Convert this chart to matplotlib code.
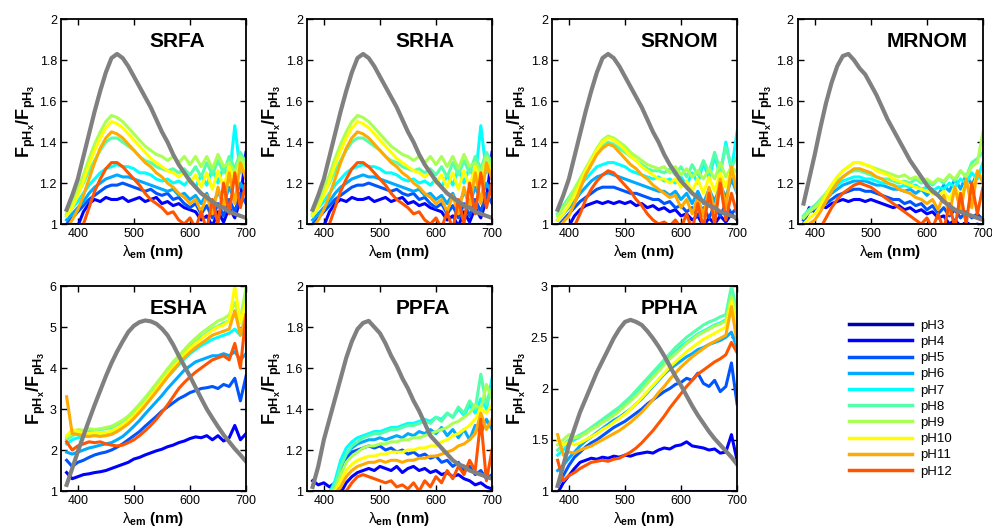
import matplotlib.pyplot as plt
from matplotlib.lines import Line2D
from matplotlib.ticker import FuncFormatter

plt.rcParams['font.family'] = ['Liberation Sans', 'DejaVu Sans']
plt.rcParams['mathtext.fontset'] = 'custom'
plt.rcParams['mathtext.rm'] = 'Liberation Sans'
plt.rcParams['mathtext.it'] = 'Liberation Sans:italic'
plt.rcParams['mathtext.bf'] = 'Liberation Sans:bold'

# emission wavelength grid (nm)
wl = [380, 390, 400, 410, 420, 430, 440, 450, 460, 470, 480, 490, 500, 510, 520, 530, 540,
      550, 560, 570, 580, 590, 600, 610, 620, 630, 640, 650, 660, 670, 680, 690, 700]

ph_labels = ['pH3', 'pH4', 'pH5', 'pH6', 'pH7', 'pH8', 'pH9', 'pH10', 'pH11', 'pH12']
ph_colors = ['#0000aa', '#0000ff', '#0055ff', '#00aaff', '#00ffff',
             '#55ffaa', '#aaff55', '#ffff00', '#ffaa00', '#ff5500']

# pH3 divided by itself
ph3_ratio = [1.0] * 33

# scaled emission spectra (grey curves)
gray_sr = [1.07, 1.14, 1.22, 1.33, 1.44, 1.55, 1.65, 1.74, 1.81, 1.83, 1.81, 1.77, 1.72, 1.67, 1.62, 1.57, 1.51,
           1.45, 1.40, 1.34, 1.29, 1.25, 1.21, 1.18, 1.15, 1.13, 1.11, 1.09, 1.08, 1.06, 1.05, 1.04, 1.03]
gray_mrnom = [1.10, 1.22, 1.34, 1.47, 1.59, 1.69, 1.77, 1.82, 1.83, 1.80, 1.76, 1.73, 1.68, 1.63, 1.57, 1.51, 1.46,
              1.41, 1.36, 1.31, 1.27, 1.23, 1.19, 1.16, 1.14, 1.11, 1.09, 1.07, 1.06, 1.05, 1.04, 1.03, 1.02]
gray_esha = [1.15, 1.55, 1.96, 2.35, 2.73, 3.10, 3.45, 3.80, 4.12, 4.40, 4.65, 4.88, 5.03, 5.12, 5.16, 5.14, 5.08,
             4.96, 4.80, 4.57, 4.30, 4.05, 3.80, 3.53, 3.26, 3.00, 2.78, 2.57, 2.37, 2.20, 2.03, 1.88, 1.72]
gray_ppfa = [1.02, 1.12, 1.25, 1.35, 1.45, 1.55, 1.65, 1.73, 1.79, 1.82, 1.83, 1.80, 1.77, 1.72, 1.66, 1.61, 1.55,
             1.50, 1.44, 1.39, 1.33, 1.27, 1.24, 1.21, 1.18, 1.15, 1.13, 1.12, 1.10, 1.09, 1.08, 1.07, 1.06]
gray_ppha = [1.05, 1.25, 1.45, 1.61, 1.77, 1.90, 2.03, 2.16, 2.27, 2.38, 2.49, 2.58, 2.65, 2.67, 2.65, 2.62, 2.56,
             2.49, 2.41, 2.32, 2.22, 2.12, 2.03, 1.93, 1.83, 1.74, 1.66, 1.58, 1.51, 1.45, 1.39, 1.33, 1.26]

# F(pHx)/F(pH3), rows pH4 ... pH12
srfa = [
    [0.97, 0.98, 0.99, 1.06, 1.10, 1.12, 1.11, 1.13, 1.12, 1.12, 1.13, 1.11, 1.12, 1.13, 1.11, 1.12, 1.13,
     1.10, 1.11, 1.09, 1.10, 1.08, 1.07, 1.06, 1.02, 1.04, 0.99, 1.06, 1.01, 1.08, 1.03, 1.12, 1.35],
    [1.00, 1.03, 1.06, 1.09, 1.12, 1.14, 1.16, 1.18, 1.19, 1.19, 1.20, 1.19, 1.18, 1.17, 1.16, 1.17, 1.15,
     1.14, 1.15, 1.12, 1.13, 1.10, 1.08, 1.10, 1.05, 1.09, 1.03, 1.10, 1.04, 1.12, 1.06, 1.15, 1.10],
    [1.02, 1.05, 1.08, 1.11, 1.15, 1.18, 1.20, 1.22, 1.23, 1.24, 1.23, 1.23, 1.22, 1.21, 1.20, 1.19, 1.18,
     1.17, 1.16, 1.17, 1.14, 1.15, 1.12, 1.14, 1.10, 1.15, 1.08, 1.16, 1.10, 1.18, 1.12, 1.20, 1.15],
    [1.04, 1.08, 1.11, 1.15, 1.19, 1.22, 1.25, 1.27, 1.28, 1.29, 1.28, 1.28, 1.27, 1.25, 1.25, 1.24, 1.22,
     1.21, 1.22, 1.20, 1.21, 1.19, 1.22, 1.18, 1.24, 1.19, 1.27, 1.20, 1.28, 1.22, 1.48, 1.25, 1.30],
    [1.05, 1.10, 1.15, 1.20, 1.26, 1.31, 1.36, 1.40, 1.42, 1.42, 1.40, 1.38, 1.36, 1.33, 1.31, 1.30, 1.28,
     1.27, 1.26, 1.27, 1.25, 1.27, 1.24, 1.28, 1.23, 1.30, 1.24, 1.31, 1.25, 1.33, 1.27, 1.35, 1.30],
    [1.05, 1.10, 1.17, 1.24, 1.32, 1.39, 1.45, 1.50, 1.53, 1.52, 1.50, 1.47, 1.44, 1.41, 1.38, 1.36, 1.34,
     1.33, 1.31, 1.33, 1.30, 1.33, 1.29, 1.33, 1.28, 1.33, 1.27, 1.34, 1.28, 1.30, 1.25, 1.33, 1.28],
    [1.04, 1.08, 1.14, 1.21, 1.29, 1.36, 1.42, 1.47, 1.50, 1.49, 1.47, 1.44, 1.41, 1.38, 1.35, 1.32, 1.30,
     1.28, 1.26, 1.25, 1.23, 1.25, 1.20, 1.24, 1.18, 1.25, 1.17, 1.26, 1.18, 1.28, 1.20, 1.30, 1.25],
    [0.98, 1.02, 1.07, 1.14, 1.22, 1.30, 1.37, 1.42, 1.45, 1.44, 1.42, 1.39, 1.36, 1.33, 1.30, 1.28, 1.25,
     1.23, 1.20, 1.18, 1.15, 1.13, 1.10, 1.12, 1.06, 1.14, 1.05, 1.18, 1.08, 1.25, 1.10, 1.30, 1.22],
    [0.95, 0.96, 0.98, 1.00, 1.08, 1.16, 1.22, 1.27, 1.30, 1.30, 1.28, 1.25, 1.22, 1.19, 1.15, 1.12, 1.10,
     1.08, 1.05, 1.06, 1.02, 1.00, 1.03, 0.98, 1.06, 0.97, 1.12, 1.00, 1.20, 1.05, 1.25, 1.08, 1.20],
]

# SRHA reads the same as SRFA in the figure
srha = srfa

srnom = [
    [0.97, 0.98, 0.99, 1.04, 1.07, 1.09, 1.10, 1.11, 1.10, 1.11, 1.10, 1.11, 1.10, 1.11, 1.09, 1.10, 1.08,
     1.09, 1.07, 1.08, 1.06, 1.07, 1.04, 1.05, 1.02, 1.04, 0.99, 1.03, 1.00, 1.04, 1.01, 1.05, 1.02],
    [0.99, 1.02, 1.05, 1.08, 1.11, 1.13, 1.15, 1.17, 1.18, 1.18, 1.18, 1.17, 1.16, 1.15, 1.15, 1.14, 1.13,
     1.12, 1.12, 1.10, 1.11, 1.08, 1.09, 1.06, 1.08, 1.04, 1.08, 1.03, 1.09, 1.04, 1.10, 1.05, 1.08],
    [1.02, 1.05, 1.08, 1.11, 1.15, 1.18, 1.21, 1.23, 1.24, 1.25, 1.24, 1.23, 1.22, 1.21, 1.20, 1.19, 1.18,
     1.17, 1.16, 1.16, 1.14, 1.16, 1.12, 1.15, 1.10, 1.16, 1.10, 1.17, 1.11, 1.19, 1.13, 1.22, 1.15],
    [1.05, 1.09, 1.12, 1.15, 1.19, 1.22, 1.25, 1.28, 1.29, 1.30, 1.30, 1.29, 1.28, 1.26, 1.25, 1.24, 1.23,
     1.22, 1.23, 1.21, 1.22, 1.20, 1.23, 1.19, 1.25, 1.20, 1.30, 1.22, 1.33, 1.24, 1.40, 1.26, 1.45],
    [1.05, 1.09, 1.13, 1.17, 1.22, 1.27, 1.31, 1.35, 1.38, 1.40, 1.39, 1.37, 1.35, 1.33, 1.31, 1.29, 1.27,
     1.26, 1.26, 1.25, 1.27, 1.24, 1.28, 1.23, 1.29, 1.24, 1.31, 1.25, 1.35, 1.26, 1.38, 1.28, 1.33],
    [1.04, 1.08, 1.12, 1.17, 1.22, 1.27, 1.32, 1.37, 1.41, 1.43, 1.42, 1.40, 1.38, 1.35, 1.33, 1.31, 1.29,
     1.28, 1.27, 1.28, 1.25, 1.28, 1.24, 1.27, 1.23, 1.26, 1.22, 1.27, 1.22, 1.30, 1.23, 1.28, 1.25],
    [1.02, 1.05, 1.09, 1.14, 1.20, 1.26, 1.31, 1.36, 1.40, 1.42, 1.41, 1.39, 1.36, 1.33, 1.31, 1.28, 1.26,
     1.24, 1.22, 1.22, 1.20, 1.22, 1.18, 1.21, 1.16, 1.22, 1.15, 1.23, 1.16, 1.25, 1.18, 1.27, 1.20],
    [0.98, 1.01, 1.04, 1.10, 1.17, 1.24, 1.29, 1.34, 1.37, 1.39, 1.38, 1.35, 1.32, 1.29, 1.27, 1.24, 1.22,
     1.19, 1.17, 1.15, 1.13, 1.14, 1.08, 1.12, 1.05, 1.13, 1.04, 1.18, 1.06, 1.22, 1.08, 1.28, 1.15],
    [0.95, 0.96, 0.97, 0.99, 1.05, 1.12, 1.17, 1.21, 1.24, 1.26, 1.25, 1.22, 1.19, 1.16, 1.12, 1.09, 1.05,
     1.02, 1.00, 1.01, 0.99, 1.02, 0.98, 1.05, 0.97, 1.10, 0.98, 1.15, 1.00, 1.20, 1.02, 1.15, 1.05],
]

mrnom = [
    [1.00, 1.08, 1.06, 1.09, 1.08, 1.10, 1.11, 1.12, 1.11, 1.12, 1.12, 1.11, 1.12, 1.11, 1.10, 1.09, 1.08,
     1.09, 1.07, 1.08, 1.06, 1.07, 1.05, 1.06, 1.03, 1.04, 1.00, 1.02, 0.99, 1.01, 0.99, 1.00, 0.99],
    [1.02, 1.06, 1.07, 1.09, 1.10, 1.12, 1.14, 1.15, 1.16, 1.17, 1.17, 1.16, 1.16, 1.15, 1.14, 1.13, 1.12,
     1.12, 1.10, 1.11, 1.09, 1.10, 1.07, 1.09, 1.05, 1.08, 1.04, 1.07, 1.03, 1.06, 1.03, 1.05, 1.02],
    [1.03, 1.07, 1.08, 1.10, 1.12, 1.15, 1.17, 1.19, 1.20, 1.21, 1.21, 1.21, 1.20, 1.19, 1.19, 1.18, 1.17,
     1.17, 1.16, 1.17, 1.15, 1.17, 1.14, 1.17, 1.14, 1.19, 1.16, 1.22, 1.17, 1.24, 1.19, 1.25, 1.22],
    [1.04, 1.07, 1.09, 1.11, 1.14, 1.17, 1.19, 1.21, 1.22, 1.23, 1.23, 1.22, 1.22, 1.21, 1.20, 1.20, 1.19,
     1.18, 1.19, 1.18, 1.19, 1.17, 1.18, 1.16, 1.18, 1.17, 1.20, 1.18, 1.22, 1.20, 1.25, 1.22, 1.30],
    [1.04, 1.07, 1.09, 1.12, 1.15, 1.18, 1.21, 1.23, 1.25, 1.26, 1.26, 1.25, 1.24, 1.23, 1.22, 1.22, 1.21,
     1.20, 1.21, 1.20, 1.22, 1.20, 1.21, 1.19, 1.22, 1.20, 1.24, 1.21, 1.26, 1.23, 1.30, 1.32, 1.35],
    [1.03, 1.06, 1.08, 1.11, 1.15, 1.19, 1.23, 1.26, 1.28, 1.30, 1.30, 1.29, 1.28, 1.27, 1.26, 1.25, 1.24,
     1.23, 1.24, 1.22, 1.23, 1.21, 1.22, 1.20, 1.22, 1.21, 1.24, 1.22, 1.26, 1.23, 1.28, 1.30, 1.45],
    [1.00, 1.03, 1.05, 1.09, 1.14, 1.19, 1.23, 1.26, 1.28, 1.30, 1.30, 1.29, 1.28, 1.26, 1.25, 1.24, 1.22,
     1.21, 1.20, 1.19, 1.18, 1.17, 1.16, 1.15, 1.14, 1.16, 1.12, 1.18, 1.13, 1.20, 1.15, 1.25, 1.22],
    [0.98, 1.00, 1.02, 1.06, 1.11, 1.16, 1.20, 1.23, 1.25, 1.27, 1.27, 1.26, 1.25, 1.23, 1.22, 1.20, 1.19,
     1.17, 1.16, 1.15, 1.13, 1.12, 1.10, 1.12, 1.07, 1.14, 1.05, 1.18, 1.06, 1.22, 1.08, 1.26, 1.20],
    [0.95, 0.96, 0.97, 0.98, 1.03, 1.08, 1.12, 1.15, 1.17, 1.19, 1.20, 1.19, 1.18, 1.16, 1.14, 1.12, 1.10,
     1.08, 1.06, 1.04, 1.02, 1.00, 1.03, 0.98, 1.05, 0.97, 1.10, 0.98, 1.15, 1.00, 1.20, 1.05, 1.18],
]

esha = [
    [1.45, 1.30, 1.35, 1.40, 1.42, 1.45, 1.47, 1.50, 1.55, 1.60, 1.65, 1.70, 1.78, 1.82, 1.88, 1.93, 1.98,
     2.02, 2.08, 2.12, 2.18, 2.22, 2.28, 2.32, 2.30, 2.35, 2.25, 2.35, 2.22, 2.30, 2.60, 2.25, 2.40],
    [1.75, 1.60, 1.70, 1.75, 1.82, 1.88, 1.92, 1.95, 2.00, 2.07, 2.15, 2.25, 2.35, 2.45, 2.58, 2.70, 2.82,
     2.95, 3.05, 3.15, 3.25, 3.32, 3.40, 3.45, 3.50, 3.52, 3.55, 3.50, 3.60, 3.55, 3.75, 3.20, 3.80],
    [1.95, 1.90, 1.95, 2.00, 2.05, 2.08, 2.12, 2.15, 2.18, 2.25, 2.33, 2.45, 2.58, 2.72, 2.88, 3.03, 3.18,
     3.33, 3.50, 3.65, 3.80, 3.95, 4.05, 4.15, 4.20, 4.25, 4.30, 4.30, 4.35, 4.30, 4.40, 4.20, 4.35],
    [2.15, 2.25, 2.30, 2.32, 2.35, 2.38, 2.40, 2.42, 2.45, 2.52, 2.60, 2.70, 2.83, 2.97, 3.12, 3.28, 3.45,
     3.62, 3.78, 3.93, 4.08, 4.22, 4.35, 4.45, 4.55, 4.62, 4.70, 4.75, 4.80, 4.85, 4.95, 4.80, 4.95],
    [2.25, 2.35, 2.40, 2.42, 2.45, 2.48, 2.50, 2.52, 2.55, 2.62, 2.70, 2.80, 2.93, 3.08, 3.24, 3.40, 3.57,
     3.75, 3.92, 4.08, 4.23, 4.38, 4.52, 4.65, 4.75, 4.85, 4.95, 5.02, 5.10, 5.15, 5.30, 5.10, 5.40],
    [2.30, 2.40, 2.50, 2.48, 2.52, 2.50, 2.52, 2.55, 2.58, 2.65, 2.73, 2.83, 2.97, 3.12, 3.28, 3.45, 3.62,
     3.80, 3.98, 4.15, 4.30, 4.45, 4.60, 4.73, 4.85, 4.95, 5.05, 5.15, 5.20, 5.30, 5.60, 5.20, 5.95],
    [2.35, 2.50, 2.45, 2.42, 2.40, 2.42, 2.40, 2.43, 2.46, 2.53, 2.62, 2.72, 2.85, 3.00, 3.15, 3.32, 3.50,
     3.68, 3.86, 4.02, 4.18, 4.33, 4.48, 4.60, 4.72, 4.82, 4.92, 5.00, 5.05, 5.15, 6.00, 5.10, 5.60],
    [3.30, 2.40, 2.38, 2.35, 2.33, 2.35, 2.33, 2.35, 2.38, 2.45, 2.54, 2.64, 2.77, 2.92, 3.08, 3.25, 3.42,
     3.60, 3.78, 3.95, 4.10, 4.25, 4.38, 4.50, 4.60, 4.70, 4.80, 4.85, 4.90, 4.95, 5.40, 4.80, 5.30],
    [2.20, 2.00, 2.10, 2.15, 2.20, 2.18, 2.20, 2.15, 2.12, 2.10, 2.12, 2.18, 2.25, 2.35, 2.47, 2.60, 2.75,
     2.92, 3.10, 3.30, 3.50, 3.65, 3.78, 3.90, 4.00, 4.10, 4.20, 4.25, 4.30, 4.20, 4.60, 4.00, 5.30],
]

ppfa = [
    [1.05, 1.03, 1.04, 1.02, 1.04, 0.99, 1.04, 1.07, 1.09, 1.10, 1.11, 1.10, 1.12, 1.11, 1.10, 1.12, 1.09,
     1.11, 1.12, 1.10, 1.11, 1.09, 1.10, 1.08, 1.09, 1.07, 1.08, 1.06, 1.05, 1.03, 1.04, 1.02, 1.01],
    [0.97, 0.98, 0.99, 0.99, 1.02, 1.10, 1.16, 1.19, 1.20, 1.21, 1.22, 1.21, 1.22, 1.20, 1.21, 1.19, 1.20,
     1.18, 1.19, 1.17, 1.18, 1.16, 1.17, 1.14, 1.15, 1.12, 1.14, 1.10, 1.12, 1.08, 1.10, 1.06, 1.08],
    [0.96, 0.97, 0.98, 0.99, 1.03, 1.12, 1.18, 1.21, 1.23, 1.24, 1.25, 1.25, 1.26, 1.25, 1.26, 1.27, 1.26,
     1.28, 1.27, 1.29, 1.28, 1.30, 1.28, 1.31, 1.27, 1.30, 1.26, 1.30, 1.25, 1.32, 1.28, 1.35, 1.30],
    [0.96, 0.97, 0.98, 0.99, 1.05, 1.15, 1.21, 1.24, 1.26, 1.27, 1.28, 1.29, 1.29, 1.30, 1.31, 1.31, 1.32,
     1.33, 1.33, 1.34, 1.35, 1.34, 1.36, 1.35, 1.38, 1.36, 1.40, 1.37, 1.42, 1.38, 1.45, 1.40, 1.55],
    [0.96, 0.97, 0.98, 0.99, 1.03, 1.12, 1.18, 1.22, 1.24, 1.26, 1.27, 1.28, 1.28, 1.29, 1.30, 1.30, 1.31,
     1.32, 1.32, 1.33, 1.34, 1.33, 1.36, 1.34, 1.38, 1.36, 1.41, 1.38, 1.44, 1.40, 1.57, 1.42, 1.50],
    [0.96, 0.97, 0.98, 0.99, 1.01, 1.08, 1.14, 1.17, 1.19, 1.21, 1.22, 1.22, 1.23, 1.23, 1.24, 1.24, 1.25,
     1.25, 1.26, 1.26, 1.27, 1.28, 1.29, 1.30, 1.31, 1.33, 1.34, 1.36, 1.38, 1.42, 1.40, 1.52, 1.45],
    [0.96, 0.97, 0.98, 0.99, 1.00, 1.05, 1.10, 1.13, 1.15, 1.16, 1.17, 1.17, 1.18, 1.18, 1.19, 1.19, 1.19,
     1.20, 1.20, 1.21, 1.21, 1.22, 1.22, 1.24, 1.25, 1.27, 1.28, 1.30, 1.32, 1.35, 1.40, 1.38, 1.42],
    [0.96, 0.97, 0.98, 0.98, 0.99, 1.02, 1.07, 1.10, 1.12, 1.13, 1.14, 1.14, 1.15, 1.14, 1.15, 1.15, 1.14,
     1.15, 1.15, 1.16, 1.16, 1.17, 1.17, 1.18, 1.19, 1.20, 1.22, 1.23, 1.25, 1.28, 1.38, 1.30, 1.35],
    [0.95, 0.96, 0.96, 0.97, 0.97, 0.98, 1.00, 1.04, 1.07, 1.08, 1.07, 1.06, 1.05, 1.04, 1.05, 1.02, 1.03,
     1.01, 1.04, 1.00, 1.05, 1.02, 1.07, 1.04, 1.10, 1.06, 1.12, 1.08, 1.15, 1.10, 1.35, 1.05, 1.20],
]

ppha = [
    [0.98, 1.08, 1.15, 1.22, 1.28, 1.30, 1.32, 1.31, 1.33, 1.32, 1.34, 1.33, 1.35, 1.34, 1.36, 1.37, 1.38,
     1.37, 1.40, 1.42, 1.41, 1.44, 1.45, 1.48, 1.44, 1.43, 1.42, 1.40, 1.41, 1.37, 1.38, 1.55, 1.30],
    [1.05, 1.15, 1.25, 1.33, 1.38, 1.43, 1.47, 1.50, 1.54, 1.58, 1.62, 1.65, 1.68, 1.72, 1.76, 1.80, 1.85,
     1.89, 1.93, 1.97, 2.00, 2.04, 2.06, 2.10, 2.08, 2.15, 2.05, 2.02, 2.08, 1.97, 2.02, 2.25, 1.85],
    [1.20, 1.25, 1.32, 1.38, 1.44, 1.49, 1.53, 1.57, 1.61, 1.65, 1.69, 1.72, 1.76, 1.80, 1.85, 1.90, 1.96,
     2.02, 2.08, 2.14, 2.19, 2.23, 2.27, 2.31, 2.34, 2.38, 2.40, 2.43, 2.45, 2.47, 2.50, 2.55, 2.40],
    [1.35, 1.40, 1.46, 1.50, 1.53, 1.57, 1.61, 1.65, 1.69, 1.73, 1.77, 1.81, 1.86, 1.90, 1.96, 2.02, 2.08,
     2.14, 2.20, 2.26, 2.31, 2.36, 2.41, 2.45, 2.49, 2.53, 2.56, 2.59, 2.62, 2.64, 2.67, 2.75, 2.65],
    [1.40, 1.45, 1.50, 1.52, 1.55, 1.58, 1.62, 1.66, 1.70, 1.74, 1.78, 1.82, 1.87, 1.92, 1.98, 2.04, 2.10,
     2.16, 2.22, 2.28, 2.34, 2.40, 2.45, 2.50, 2.54, 2.58, 2.62, 2.65, 2.67, 2.70, 2.72, 3.00, 2.75],
    [1.45, 1.50, 1.55, 1.52, 1.53, 1.56, 1.60, 1.63, 1.67, 1.70, 1.74, 1.78, 1.83, 1.88, 1.93, 1.99, 2.05,
     2.11, 2.17, 2.23, 2.29, 2.34, 2.39, 2.44, 2.48, 2.52, 2.55, 2.58, 2.61, 2.63, 2.66, 2.90, 2.70],
    [1.50, 1.45, 1.48, 1.45, 1.47, 1.50, 1.53, 1.56, 1.60, 1.63, 1.67, 1.71, 1.75, 1.80, 1.85, 1.91, 1.97,
     2.03, 2.09, 2.15, 2.21, 2.26, 2.31, 2.36, 2.40, 2.44, 2.48, 2.51, 2.54, 2.57, 2.60, 2.85, 2.55],
    [1.55, 1.35, 1.38, 1.37, 1.40, 1.42, 1.44, 1.47, 1.50, 1.53, 1.56, 1.59, 1.63, 1.67, 1.72, 1.77, 1.83,
     1.89, 1.96, 2.02, 2.09, 2.15, 2.21, 2.26, 2.31, 2.35, 2.39, 2.43, 2.46, 2.49, 2.52, 2.80, 2.45],
    [1.30, 1.10, 1.15, 1.18, 1.22, 1.25, 1.28, 1.29, 1.30, 1.29, 1.31, 1.32, 1.35, 1.38, 1.42, 1.47, 1.53,
     1.59, 1.66, 1.73, 1.81, 1.88, 1.95, 2.02, 2.08, 2.14, 2.18, 2.22, 2.26, 2.29, 2.33, 2.45, 2.35],
]

panels = [
    ('SRFA', srfa, gray_sr, (1, 2), [1, 1.2, 1.4, 1.6, 1.8, 2]),
    ('SRHA', srha, gray_sr, (1, 2), [1, 1.2, 1.4, 1.6, 1.8, 2]),
    ('SRNOM', srnom, gray_sr, (1, 2), [1, 1.2, 1.4, 1.6, 1.8, 2]),
    ('MRNOM', mrnom, gray_mrnom, (1, 2), [1, 1.2, 1.4, 1.6, 1.8, 2]),
    ('ESHA', esha, gray_esha, (1, 6), [1, 2, 3, 4, 5, 6]),
    ('PPFA', ppfa, gray_ppfa, (1, 2), [1, 1.2, 1.4, 1.6, 1.8, 2]),
    ('PPHA', ppha, gray_ppha, (1, 3), [1, 1.5, 2, 2.5, 3]),
]

fig = plt.figure(figsize=(9.92, 5.31), dpi=100)

lefts = [0.0615, 0.3095, 0.5565, 0.8044]
bottoms = [0.578, 0.0753]
w, h = 0.1865, 0.386

for i, (name, series, gray, ylim, yticks) in enumerate(panels):
    ax = fig.add_axes([lefts[i % 4], bottoms[i // 4], w, h])
    ax.plot(wl, ph3_ratio, color=ph_colors[0], lw=2.2)
    for k, vals in enumerate(series):
        ax.plot(wl, vals, color=ph_colors[k + 1], lw=2.2)
    ax.plot(wl, gray, color='#808080', lw=3.0)

    ax.set_xlim(370, 700)
    ax.set_ylim(*ylim)
    ax.set_xticks([400, 500, 600, 700])
    ax.set_yticks(yticks)
    ax.yaxis.set_major_formatter(FuncFormatter(lambda v, p: '{:g}'.format(v)))
    ax.tick_params(direction='in', top=True, right=True, length=4, width=1,
                   labelsize=9, pad=3)
    for s in ax.spines.values():
        s.set_linewidth(1.3)

    ax.text(0.477, 0.89, name, transform=ax.transAxes, ha='left', va='center',
            fontsize=15, fontweight='bold')
    ax.set_ylabel(r'$\mathbf{F}_{\mathbf{pH}_{\mathbf{x}}}\mathbf{/F}_{\mathbf{pH}_{\mathbf{3}}}$',
                  fontsize=13, labelpad=1)
    ax.set_xlabel(r'$\mathrm{\lambda}_{\mathbf{em}}$ (nm)', fontsize=11, fontweight='bold', labelpad=2)

handles = [Line2D([], [], color=c, lw=2.5) for c in ph_colors]
fig.legend(handles, ph_labels, loc='upper left', bbox_to_anchor=(0.856, 0.398),
           frameon=False, fontsize=9.5, handlelength=4.8, handletextpad=0.6,
           labelspacing=0.3, borderpad=0, borderaxespad=0)

plt.savefig('out.png', dpi=100)
